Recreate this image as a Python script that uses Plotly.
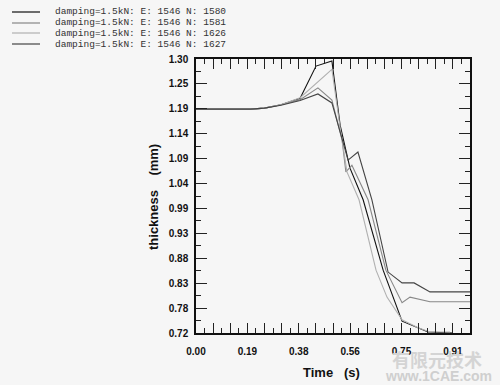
import plotly.graph_objects as go

# ---------------- data ----------------
series_names = [
    "damping=1.5kN: E: 1546 N: 1580",
    "damping=1.5kN: E: 1546 N: 1581",
    "damping=1.5kN: E: 1546 N: 1626",
    "damping=1.5kN: E: 1546 N: 1627",
]
t_1580 = [0, 0.20, 0.25, 0.31, 0.38, 0.438, 0.496, 0.526, 0.562, 0.610, 0.683, 0.752, 0.847, 0.938]
th_1580 = [1.194, 1.194, 1.196, 1.203, 1.217, 1.285, 1.296, 1.160, 1.069, 1.002, 0.853, 0.745, 0.722, 0.720]

t_1581 = [0, 0.20, 0.25, 0.31, 0.38, 0.445, 0.496, 0.533, 0.547, 0.569, 0.628, 0.693, 0.752, 0.781, 0.854, 1.0]
th_1581 = [1.194, 1.194, 1.196, 1.203, 1.214, 1.239, 1.213, 1.129, 1.061, 1.075, 1.002, 0.853, 0.784, 0.796, 0.786, 0.786]

t_1626 = [0, 0.20, 0.25, 0.31, 0.38, 0.496, 0.526, 0.551, 0.595, 0.657, 0.697, 0.752, 0.810, 0.854, 0.927]
th_1626 = [1.194, 1.194, 1.196, 1.203, 1.218, 1.278, 1.155, 1.061, 1.002, 0.853, 0.796, 0.748, 0.731, 0.722, 0.722]

t_1627 = [0, 0.20, 0.25, 0.31, 0.38, 0.445, 0.496, 0.533, 0.555, 0.591, 0.642, 0.701, 0.752, 0.796, 0.854, 1.0]
th_1627 = [1.194, 1.194, 1.196, 1.202, 1.212, 1.226, 1.207, 1.129, 1.086, 1.103, 1.002, 0.849, 0.826, 0.826, 0.807, 0.807]

x_tick_labels = ["0.00", "0.19", "0.38", "0.56", "0.75", "0.91"]
y_tick_labels = ["0.72", "0.78", "0.83", "0.88", "0.93", "0.99",
                 "1.04", "1.09", "1.14", "1.19", "1.25", "1.30"]

# ---------------- styling ----------------
colors = ["#111111", "#888888", "#b0b0b0", "#444444"]
W, H = 500, 385
PLOT_L, PLOT_R, PLOT_T, PLOT_B = 196, 470, 59, 333   # target plot box in window pixels
L, T = PLOT_L, PLOT_T
PW, PH = PLOT_R - PLOT_L, PLOT_B - PLOT_T
R, B = W - L - PW, H - T - PH
BG = "#f6f6f6"

X_MIN, X_MAX = 0.0, 1.0
Y_MIN, Y_MAX = 0.72, 1.30

def px_x(p):
    return (p - PLOT_L) / PW

def px_y(p):
    return (PLOT_B - p) / PH

fig = go.Figure()
series = [(t_1580, th_1580), (t_1581, th_1581), (t_1626, th_1626), (t_1627, th_1627)]
for (tx, ty), name, c in zip(series, series_names, colors):
    fig.add_trace(go.Scatter(x=tx, y=ty, mode="lines", name=name,
                             line=dict(color=c, width=1.1), showlegend=False))

# x ticks: major every 1/16, labels every third major
x_step = (X_MAX - X_MIN) / 16
x_tickvals = [X_MIN + i * x_step for i in range(17)]
x_ticktext = []
for i in range(17):
    x_ticktext.append(x_tick_labels[i // 3] if i % 3 == 0 and i // 3 < len(x_tick_labels) else "")

y_step = (Y_MAX - Y_MIN) / (len(y_tick_labels) - 1)
y_tickvals = [Y_MIN + i * y_step for i in range(len(y_tick_labels))]

tickfont = dict(family="Liberation Sans", size=10, color="#111111", weight="bold")

fig.update_xaxes(range=[X_MIN, X_MAX], tickmode="array", tickvals=x_tickvals, ticktext=x_ticktext,
                 ticks="inside", ticklen=10, tickwidth=1.3, tickcolor="#222222",
                 showline=True, linecolor="#111111", linewidth=1.5, mirror="allticks",
                 showgrid=False, zeroline=False, tickfont=tickfont, ticklabelstandoff=8,
                 minor=dict(ticks="inside", ticklen=5, tickwidth=1.2, tickcolor="#222222",
                            tick0=X_MIN, dtick=x_step / 2, showgrid=False))
fig.update_yaxes(range=[Y_MIN, Y_MAX], tickmode="array", tickvals=y_tickvals, ticktext=y_tick_labels,
                 ticks="inside", ticklen=11, tickwidth=1.3, tickcolor="#222222",
                 showline=True, linecolor="#111111", linewidth=1.5, mirror="allticks",
                 showgrid=False, zeroline=False, tickfont=tickfont, ticklabelstandoff=4,
                 minor=dict(ticks="inside", ticklen=5, tickwidth=1.2, tickcolor="#222222",
                            tick0=Y_MIN, dtick=y_step / 2, showgrid=False))

def ann(text, cx, cy, font, **kw):
    d = dict(text=text, x=px_x(cx), y=px_y(cy), xref="paper", yref="paper",
             xanchor="center", yanchor="middle", showarrow=False, font=font)
    d.update(kw)
    return d

annotations = [
    ann("Time\u00a0\u00a0\u00a0(s)", 331, 372,
        dict(family="Liberation Sans", size=13, color="#111111", weight="bold")),
    ann("thickness\u00a0\u00a0\u00a0\u00a0(mm)", 154, 197,
        dict(family="Liberation Sans", size=13, color="#111111", weight="bold"), textangle=-90),
    ann("有限元技术", 437, 359,
        dict(family="Noto Sans CJK SC", size=18, color="#d4d4d4", weight="bold")),
    ann("www.1CAE.com", 438, 376,
        dict(family="Liberation Sans", size=14, color="#cfcfcf", weight="bold")),
]
shapes = []
legend_rows = [12, 23, 33, 44]
for name, c, ry in zip(series_names, colors, legend_rows):
    shapes.append(dict(type="line", xref="paper", yref="paper",
                       x0=px_x(12), x1=px_x(40), y0=px_y(ry), y1=px_y(ry),
                       line=dict(color=c, width=1.2)))
    annotations.append(ann(name, 53, ry,
                           dict(family="Liberation Mono", size=9.5, color="#333333"),
                           xanchor="left"))

fig.update_layout(width=W, height=H, autosize=False,
                  margin=dict(l=L, r=R, t=T, b=B, pad=0),
                  paper_bgcolor=BG, plot_bgcolor=BG,
                  annotations=annotations, shapes=shapes, showlegend=False)

fig.write_html("out.html", config={"displayModeBar": False},
               post_script="document.body.style.margin='0px';document.body.style.background='%s';" % BG)
